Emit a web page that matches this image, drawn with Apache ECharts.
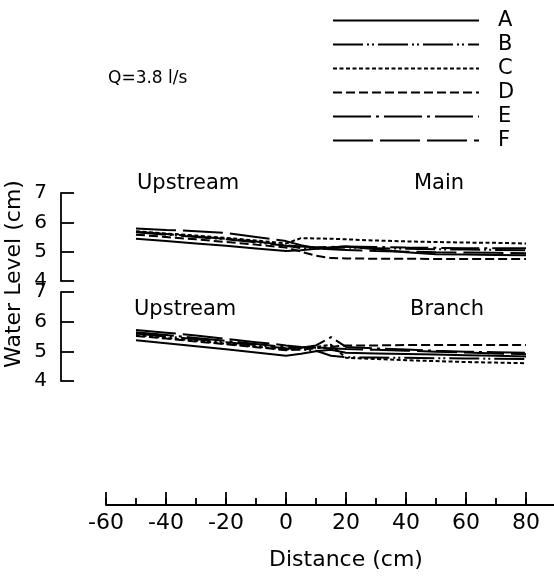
<!DOCTYPE html>
<html>
<head>
<meta charset="utf-8">
<script src="https://cdn.jsdelivr.net/npm/echarts@6/dist/echarts.min.js"></script>
<style>
  html, body { margin: 0; padding: 0; background: #fff; }
  #chart { width: 554px; height: 576px; }
</style>
</head>
<body>
<div id="chart"></div>
<script>
// Measuring stations along the channel (cm from the junction)
const distance = [-50, -40, -30, -20, -10, 0, 5, 10, 15, 20, 30, 40, 50, 60, 70, 80];

// Water level (cm) along the main channel
const mainA = [5.44, 5.36, 5.28, 5.20, 5.11, 5.02, 5.05, 5.10, 5.15, 5.18, 5.08, 4.98, 4.91, 4.90, 4.89, 4.88];
const mainB = [5.66, 5.58, 5.50, 5.42, 5.32, 5.20, 5.12, 5.10, 5.12, 5.14, 5.12, 5.10, 5.08, 5.07, 5.06, 5.05];
const mainC = [5.70, 5.62, 5.55, 5.47, 5.38, 5.28, 5.46, 5.45, 5.44, 5.42, 5.38, 5.35, 5.33, 5.31, 5.30, 5.28];
const mainD = [5.58, 5.50, 5.42, 5.33, 5.24, 5.14, 5.00, 4.86, 4.78, 4.77, 4.76, 4.76, 4.75, 4.75, 4.75, 4.75];
const mainE = [5.68, 5.60, 5.52, 5.44, 5.35, 5.22, 5.18, 5.15, 5.16, 5.18, 5.16, 5.14, 5.13, 5.12, 5.12, 5.12];
const mainF = [5.79, 5.74, 5.70, 5.64, 5.50, 5.36, 5.22, 5.12, 5.08, 5.06, 5.02, 5.00, 4.98, 4.97, 4.96, 4.95];

// Water level (cm) along the branch channel
const branchA = [5.37, 5.27, 5.17, 5.07, 4.96, 4.85, 4.92, 5.00, 5.05, 4.95, 4.93, 4.91, 4.89, 4.87, 4.85, 4.83];
const branchB = [5.60, 5.50, 5.41, 5.31, 5.21, 5.10, 5.06, 5.02, 4.85, 4.80, 4.79, 4.78, 4.77, 4.76, 4.75, 4.74];
const branchC = [5.55, 5.45, 5.36, 5.26, 5.16, 5.06, 5.10, 5.15, 5.22, 4.78, 4.74, 4.70, 4.67, 4.64, 4.62, 4.60];
const branchD = [5.52, 5.43, 5.33, 5.24, 5.14, 5.04, 5.06, 5.10, 5.15, 5.20, 5.20, 5.21, 5.21, 5.21, 5.21, 5.21];
const branchE = [5.64, 5.55, 5.45, 5.35, 5.25, 5.14, 5.12, 5.20, 5.48, 5.15, 5.10, 5.06, 5.02, 4.99, 4.97, 4.95];
const branchF = [5.72, 5.63, 5.53, 5.42, 5.31, 5.20, 5.15, 5.12, 5.10, 5.08, 5.05, 5.02, 4.99, 4.96, 4.93, 4.90];

const runNames = ['A', 'B', 'C', 'D', 'E', 'F'];
const levelTicks = [4, 5, 6, 7];
const distanceTicks = [-60, -40, -20, 0, 20, 40, 60, 80];

const FONT = 'DejaVu Sans';
const INK = '#000';

// Dash pattern for each run
const dashes = {
  A: 'solid',
  B: [30, 4, 2, 3, 2, 4],
  C: [4, 2.5],
  D: [9, 4],
  E: [38, 5, 3, 5],
  F: [40, 7]
};

const mainRuns = [mainA, mainB, mainC, mainD, mainE, mainF];
const branchRuns = [branchA, branchB, branchC, branchD, branchE, branchF];

function lineSeries(name, values, gridIdx) {
  return {
    type: 'line',
    name: name,
    xAxisIndex: gridIdx,
    yAxisIndex: gridIdx,
    data: distance.map((d, i) => [d, values[i]]),
    symbol: 'none',
    silent: true,
    animation: false,
    lineStyle: { color: INK, width: 2, type: dashes[name] },
    itemStyle: { color: INK }
  };
}

const series = [];
runNames.forEach((n, i) => series.push(lineSeries(n, mainRuns[i], 0)));
runNames.forEach((n, i) => series.push(lineSeries(n, branchRuns[i], 1)));

// Shared horizontal frame: 3 px per cm, -60 cm at x=106; the axis runs off the right page edge
const gridLeft = 106, gridWidth = 480;
const xMin = -60, xMax = 100;

function levelAxis(gridIdx) {
  return {
    type: 'value',
    gridIndex: gridIdx,
    min: levelTicks[0],
    max: levelTicks[levelTicks.length - 1],
    interval: 1,
    offset: 45,
    axisLine: { show: true, onZero: false, lineStyle: { color: INK, width: 1.8 } },
    axisTick: { show: true, inside: true, length: 13, lineStyle: { color: INK, width: 1.8 } },
    axisLabel: { color: INK, fontSize: 20, fontFamily: FONT, margin: 14 },
    splitLine: { show: false }
  };
}

function hiddenDistanceAxis(gridIdx) {
  return { type: 'value', gridIndex: gridIdx, min: xMin, max: xMax, show: false };
}

function panelGrid(top, height) {
  return { left: gridLeft, width: gridWidth, top: top, height: height, outerBoundsMode: 'none', containLabel: false };
}

const option = {
  backgroundColor: '#fff',
  animation: false,
  grid: [
    panelGrid(193, 88),
    panelGrid(292, 89),
    panelGrid(400, 105)
  ],
  xAxis: [
    hiddenDistanceAxis(0),
    hiddenDistanceAxis(1),
    {
      // main distance axis: line, long ticks every 20 cm, labels, title
      type: 'value',
      gridIndex: 2,
      min: xMin,
      max: xMax,
      interval: 20,
      position: 'bottom',
      name: 'Distance (cm)',
      nameLocation: 'middle',
      nameGap: 44,
      nameTextStyle: { color: INK, fontSize: 22, fontFamily: FONT },
      axisLine: { show: true, onZero: false, lineStyle: { color: INK, width: 1.8 } },
      axisTick: { show: true, inside: true, length: 13, lineStyle: { color: INK, width: 1.8 } },
      axisLabel: {
        color: INK, fontSize: 22, fontFamily: FONT, margin: 7,
        formatter: v => (distanceTicks.indexOf(v) >= 0 ? String(v) : '')
      },
      splitLine: { show: false }
    },
    {
      // short ticks every 10 cm
      type: 'value',
      gridIndex: 2,
      min: xMin,
      max: xMax,
      interval: 10,
      position: 'bottom',
      axisLine: { show: false, onZero: false },
      axisTick: { show: true, inside: true, length: 7, lineStyle: { color: INK, width: 1.8 } },
      axisLabel: { show: false },
      splitLine: { show: false }
    }
  ],
  yAxis: [
    levelAxis(0),
    levelAxis(1),
    { type: 'value', gridIndex: 2, min: 0, max: 1, show: false }
  ],
  legend: {
    data: runNames,
    orient: 'vertical',
    left: 332,
    top: 10,
    padding: 0,
    itemWidth: 146,
    itemHeight: 14,
    itemGap: 3,
    selectedMode: false,
    itemStyle: { opacity: 0 },
    textStyle: { color: INK, fontSize: 21, fontFamily: FONT, padding: [0, 0, 0, 14] }
  },
  graphic: [
    {
      type: 'text', left: 108, top: 70,
      style: { text: 'Q=3.8 l/s', fill: INK, fontSize: 17, fontFamily: FONT }
    },
    {
      type: 'text', left: 137, top: 173,
      style: { text: 'Upstream', fill: INK, fontSize: 21, fontFamily: FONT }
    },
    {
      type: 'text', left: 414, top: 173,
      style: { text: 'Main', fill: INK, fontSize: 21, fontFamily: FONT }
    },
    {
      type: 'text', left: 134, top: 299,
      style: { text: 'Upstream', fill: INK, fontSize: 21, fontFamily: FONT }
    },
    {
      type: 'text', left: 410, top: 299,
      style: { text: 'Branch', fill: INK, fontSize: 21, fontFamily: FONT }
    },
    {
      type: 'text',
      x: 14, y: 274,
      rotation: Math.PI / 2,
      style: {
        text: 'Water Level (cm)', fill: INK, fontSize: 22, fontFamily: FONT,
        align: 'center', verticalAlign: 'middle'
      }
    }
  ],
  series: series
};

const chart = echarts.init(document.getElementById('chart'), null, { renderer: 'canvas' });
chart.setOption(option);
</script>
</body>
</html>
